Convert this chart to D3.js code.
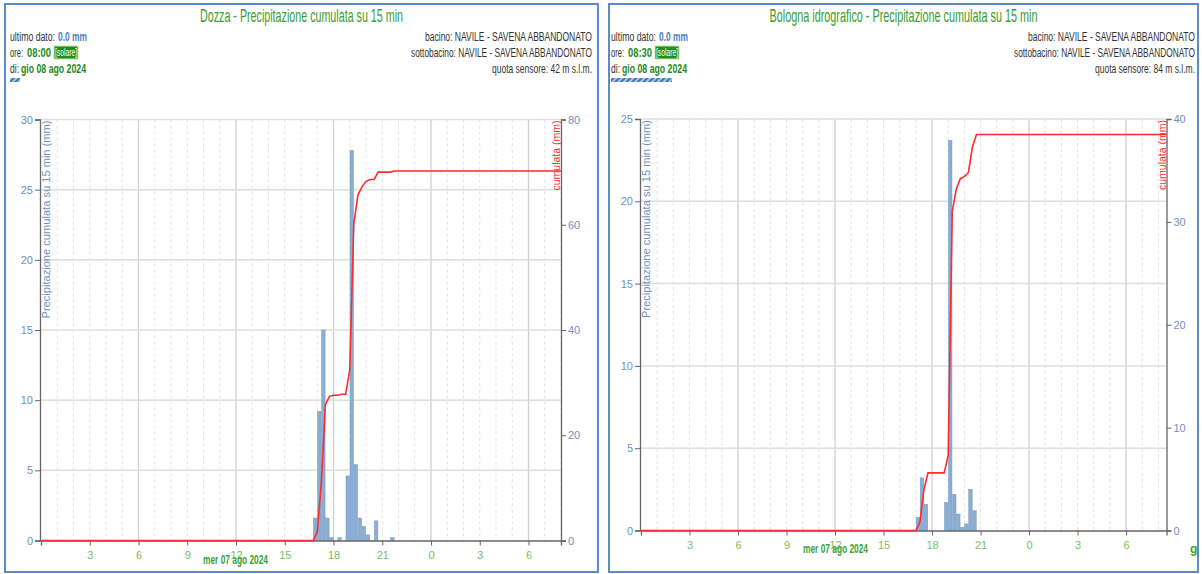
<!DOCTYPE html>
<html><head><meta charset="utf-8">
<script src="https://cdn.jsdelivr.net/npm/d3@7"></script>
<style>
body{margin:0;background:#fff;}
svg{display:block;}
text{font-family:"Liberation Sans Narrow","Arial Narrow","Liberation Sans",Arial,sans-serif;}
</style>
</head><body>
<svg id="c" width="1202" height="574"></svg>
<script>
// ---------- data ----------
const hourTicks = [3, 6, 9, 12, 15, 18, 21, 24, 27, 30];
const hourTickLabels = ["3", "6", "9", "12", "15", "18", "21", "0", "3", "6"];
const dayLabel = "mer 07 ago 2024";

const dozzaTimes = ["16:45","17:00","17:15","17:30","17:45","18:15","18:45","19:00","19:15","19:30","19:45","20:00","20:30","21:30"];
const dozzaRain  = [1.6, 9.2, 15.0, 1.6, 0.2, 0.2, 4.6, 27.8, 5.4, 1.6, 1.0, 0.4, 1.4, 0.2];
const dozzaLeftTicks = [0, 5, 10, 15, 20, 25, 30];
const dozzaRightTicks = [0, 20, 40, 60, 80];

const bolognaTimes = ["17:00","17:15","17:30","18:45","19:00","19:15","19:30","19:45","20:00","20:15","20:30"];
const bolognaRain  = [0.8, 3.2, 1.6, 1.7, 23.7, 2.2, 1.0, 0.2, 0.4, 2.5, 1.2];
const bolognaLeftTicks = [0, 5, 10, 15, 20, 25];
const bolognaRightTicks = [0, 10, 20, 30, 40];

const panels = [
  { title: "Dozza - Precipitazione cumulata su 15 min", lastTime: "08:00", lastHour: 32,
    times: dozzaTimes, rain: dozzaRain, leftTicks: dozzaLeftTicks, rightTicks: dozzaRightTicks,
    quota: "quota sensore: 42 m s.l.m.",
    box: [5, 4, 593, 568], plot: [41, 561, 119.5, 540.5], titleW: 203, hatchW: 10,
    lx: 10, rx: 592,
    tickY: 559, dayY: 564, dayX: 203, extraG: false },
  { title: "Bologna idrografico - Precipitazione cumulata su 15 min", lastTime: "08:30", lastHour: 32.5,
    times: bolognaTimes, rain: bolognaRain, leftTicks: bolognaLeftTicks, rightTicks: bolognaRightTicks,
    quota: "quota sensore: 84 m s.l.m.",
    box: [609, 4, 589, 568], plot: [641, 1166.5, 119, 530.5], titleW: 268, hatchW: 61,
    lx: 611, rx: 1195,
    tickY: 549, dayY: 553, dayX: 803, extraG: true }
];

const svg = d3.select("#c");
const defs = svg.append("defs");
const pat = defs.append("pattern").attr("id","hatch").attr("patternUnits","userSpaceOnUse")
  .attr("width",4).attr("height",4).attr("patternTransform","rotate(45)");
pat.append("rect").attr("width",4).attr("height",4).attr("fill","#a9c4e6");
pat.append("rect").attr("width",2).attr("height",4).attr("fill","#3f74c0");

function toHour(s){ const [h,m] = s.split(":").map(Number); return h + m/60; }

function text(g, x, y, s, o={}) {
  const t = g.append("text").attr("x", x).attr("y", y).text(s)
    .attr("font-size", o.size || 12).attr("fill", o.fill || "#333")
    .attr("text-anchor", o.anchor || "start");
  if (o.bold) t.attr("font-weight", "bold");
  if (o.len) t.attr("textLength", o.len).attr("lengthAdjust", "spacingAndGlyphs");
  return t;
}

panels.forEach(p => {
  const g = svg.append("g");
  const [bx, by, bw, bh] = p.box;
  g.append("rect").attr("x", bx).attr("y", by).attr("width", bw).attr("height", bh)
    .attr("fill", "#fff").attr("stroke", "#5b8cc8").attr("stroke-width", 2);

  const cx = bx + bw / 2;
  text(g, cx, 22, p.title, {size: 19, fill: "#3a9c2e", anchor: "middle", len: p.titleW});

  const lx = p.lx, rx = p.rx;
  text(g, lx, 41, "ultimo dato:", {size: 12, fill: "#333", len: 45});
  text(g, lx + 48, 41, "0.0 mm", {size: 12, fill: "#4a7ec2", bold: true, len: 29});
  text(g, lx, 57, "ore:", {size: 12, fill: "#333", len: 13});
  text(g, lx + 17, 57, p.lastTime, {size: 12, fill: "#1e8a1e", bold: true, len: 24});
  g.append("rect").attr("x", lx + 44).attr("y", 46).attr("width", 24).attr("height", 13)
    .attr("fill", "#1f8f1f").attr("stroke", "#c8e6a0").attr("stroke-width", 1);
  text(g, lx + 45, 56, "[solare]", {size: 11, fill: "#fff", len: 22});
  text(g, lx, 73, "di:", {size: 12, fill: "#333", len: 9});
  text(g, lx + 11, 73, "gio 08 ago 2024", {size: 12, fill: "#1e8a1e", bold: true, len: 65});
  g.append("rect").attr("x", lx).attr("y", 78).attr("width", p.hatchW).attr("height", 4).attr("fill", "url(#hatch)");

  text(g, rx, 41, "bacino: NAVILE - SAVENA ABBANDONATO", {size: 12, anchor: "end", len: 167});
  text(g, rx, 57, "sottobacino: NAVILE - SAVENA ABBANDONATO", {size: 12, anchor: "end", len: 181});
  text(g, rx, 73, p.quota, {size: 12, anchor: "end", len: 100});

  const [pl, pr, pt, pb] = p.plot;
  const x = d3.scaleLinear().domain([0, p.lastHour]).range([pl, pr]);
  const yMax = p.leftTicks[p.leftTicks.length - 1];
  const y2Max = p.rightTicks[p.rightTicks.length - 1];
  const y = d3.scaleLinear().domain([0, yMax]).range([pb, pt]);
  const y2 = d3.scaleLinear().domain([0, y2Max]).range([pb, pt]);

  // grid
  const grid = g.append("g");
  d3.range(1, Math.floor(p.lastHour) + 1).forEach(h => {
    const major = h % 6 === 0;
    grid.append("line").attr("x1", x(h)).attr("x2", x(h)).attr("y1", pt).attr("y2", pb)
      .attr("stroke", major ? "#cfcfcf" : "#e2e2e2").attr("stroke-width", major ? 1.3 : 1)
      .attr("stroke-dasharray", major ? null : "3,3");
  });
  p.leftTicks.filter(v => v > 0).forEach(v => {
    grid.append("line").attr("x1", pl).attr("x2", pr).attr("y1", y(v)).attr("y2", y(v))
      .attr("stroke", "#dedede").attr("stroke-width", 1.5);
  });

  // bars
  const bars = p.times.map((t, i) => ({ h: toHour(t), v: p.rain[i] }));
  g.append("g").selectAll("rect").data(bars).join("rect")
    .attr("x", d => x(d.h) + 0.3)
    .attr("width", d => x(d.h + 0.25) - x(d.h) - 0.6)
    .attr("y", d => y(d.v)).attr("height", d => pb - y(d.v))
    .attr("fill", "#8badd2").attr("stroke", "#7399c4").attr("stroke-width", 0.5);

  // axes
  const axisCol = "#666";
  const yAxis = g.append("g").attr("transform", `translate(${pl - 1},0)`)
    .call(d3.axisLeft(y).tickValues(p.leftTicks).tickSize(5).tickPadding(2));
  const y2Axis = g.append("g").attr("transform", `translate(${pr},0)`)
    .call(d3.axisRight(y2).tickValues(p.rightTicks).tickSize(5).tickPadding(2));
  const xAxis = g.append("g").attr("transform", `translate(0,${pb})`)
    .call(d3.axisBottom(x).tickValues(hourTicks).tickSize(5).tickFormat((d, i) => hourTickLabels[i]));
  [yAxis, y2Axis, xAxis].forEach(a => {
    a.select(".domain").attr("stroke", axisCol).attr("stroke-width", 1.3);
    a.selectAll(".tick line").attr("stroke", axisCol);
    a.selectAll("text").attr("font-size", 11).attr("font-family", null);
  });
  yAxis.selectAll("text").attr("fill", "#6f90c2");
  y2Axis.selectAll("text").attr("fill", "#6f90c2");
  xAxis.selectAll("text").attr("fill", "#78c060").attr("dy", null).attr("y", null)
    .attr("transform", `translate(0,${p.tickY - pb})`);

  // cumulative line
  const first = d3.min(bars, d => d.h), last = d3.max(bars, d => d.h);
  const rainAt = new Map(bars.map(d => [Math.round(d.h * 4), d.v]));
  const pts = [[0, 0], [first, 0]];
  let cum = 0;
  for (let q = Math.round(first * 4); q <= Math.round(last * 4); q++) {
    cum += rainAt.get(q) || 0;
    pts.push([(q + 1) / 4, cum]);
  }
  pts.push([p.lastHour, cum]);
  g.append("path").datum(pts)
    .attr("d", d3.line().x(d => x(d[0])).y(d => y2(d[1])))
    .attr("fill", "none").attr("stroke", "#ff2b2b").attr("stroke-width", 1.6);

  // axis titles
  text(g, 0, 0, "Precipitazione cumulata su 15 min (mm)", {size: 10, fill: "#6f90c2", anchor: "end", len: 198})
    .attr("transform", `translate(${pl + 9},${pt + 1}) rotate(-90)`);
  text(g, 0, 0, "cumulata (mm)", {size: 10, fill: "#f03030", anchor: "end", len: 70})
    .attr("transform", `translate(${pr - 1},${pt + 1}) rotate(-90)`);

  text(g, p.dayX, p.dayY, dayLabel, {size: 12, fill: "#3aa335", bold: true, len: 65});
  if (p.extraG) text(g, 1190, 553, "g", {size: 12, fill: "#3aa335", bold: true});
});
</script>
</body></html>
